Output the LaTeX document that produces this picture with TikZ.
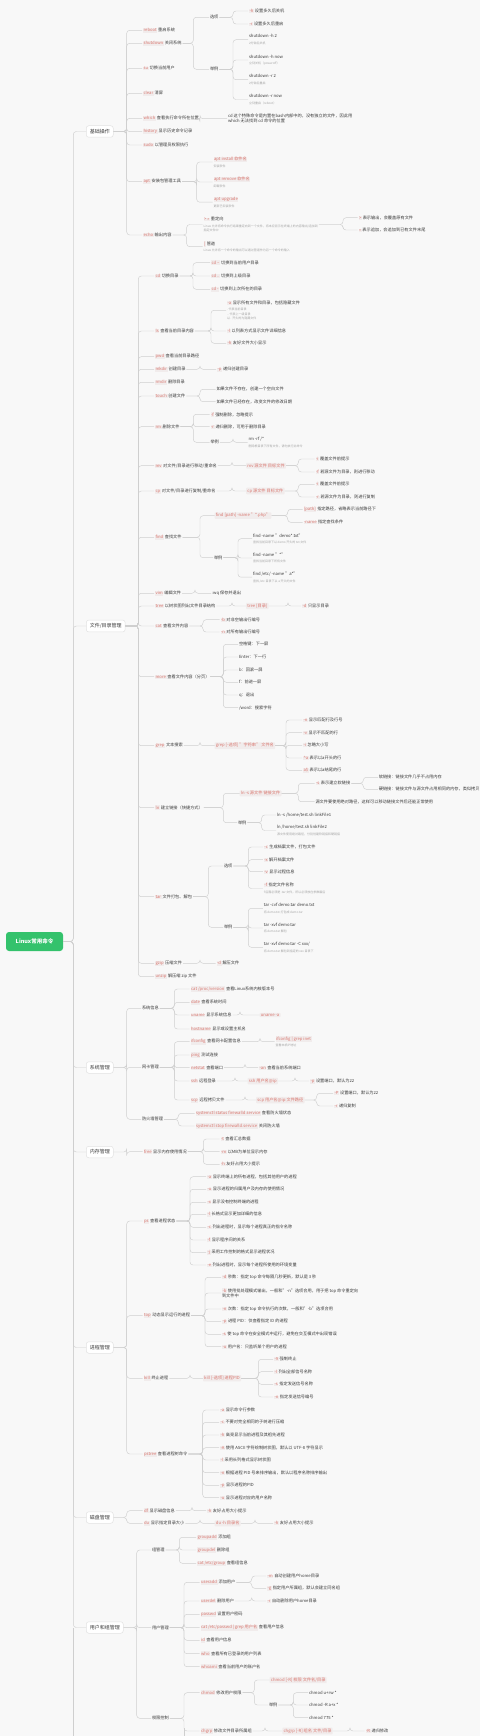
\documentclass[tikz,border=0pt]{standalone}
\usepackage{fontspec}
\setmainfont{Noto Sans CJK SC}
\usetikzlibrary{calc}
\definecolor{bgc}{HTML}{F8F8F8}
\definecolor{lc}{HTML}{CFCFCF}
\definecolor{txt}{HTML}{3A3A3A}
\definecolor{cmdc}{HTML}{D9776F}
\definecolor{codebg}{HTML}{F1ECEC}
\definecolor{notec}{HTML}{A5A5A5}
\definecolor{rootc}{HTML}{34C26C}
\definecolor{lob}{HTML}{E2E2E2}
\newcommand\cm[1]{{\setlength\fboxsep{0.6pt}\colorbox{codebg}{\textcolor{cmdc}{#1}}}}
\newcommand\op[1]{{\setlength\fboxsep{0.5pt}\colorbox{codebg}{\textcolor{cmdc}{#1}}}}
\newcommand\NT[1]{\\[1.6pt]{\fontsize{3}{3.6}\selectfont\color{notec}#1}}
\newcommand\NL[1]{\\[-0.6pt]{\fontsize{3}{3.6}\selectfont\color{notec}#1}}
\tikzset{
 t/.style={anchor=west,inner xsep=0.8pt,inner ysep=0.6pt,align=left,text=txt,font=\fontsize{4.2}{5}\selectfont},
 cb/.style={fill=codebg,text=cmdc,rounded corners=0.8pt,inner xsep=1.2pt,inner ysep=1pt},
 lone/.style={draw=lob,line width=0.5pt,fill=white,rounded corners=2.5pt,inner xsep=3.5pt,minimum height=11.5pt,font=\fontsize{5}{6}\selectfont,text=txt,anchor=west},
 rootn/.style={fill=rootc,rounded corners=3pt,text=white,font=\fontsize{5.5}{6.5}\selectfont\bfseries,minimum width=57pt,minimum height=19pt},
 link/.style={draw=lc,line width=0.45pt,rounded corners=3pt}
}
\newcommand\nd[4]{\node[t] (#1) at (#2,-#3) {#4};}
\newcommand\cbx[4]{\node[t,cb] (#1) at (#2,-#3) {#4};}
\newcommand\lk[3]{\draw[link] let \p1=(#1.east), \p2=(#3.west) in (\p1) -- (#2pt,\y1) |- (\p2);}
\newcommand\lks[3]{\foreach \chn in {#3}{\lk{#1}{#2}{\chn}}}
\begin{document}
\begin{tikzpicture}[x=1pt,y=1pt]
\useasboundingbox (0,0) rectangle (480,-1736);
\fill[bgc] (0,0) rectangle (480,-1736);
\clip (0,0) rectangle (480,-1736);
% root and level 1
\node[rootn] (root) at (34.5,-941.5) {Linux常用命令};
\node[lone] (b1) at (86,-131.5) {基础操作};
\node[lone] (b2) at (86,-626) {文件/目录管理};
\node[lone] (b3) at (86,-1067.5) {系统管理};
\node[lone] (b4) at (86,-1152) {内存管理};
\node[lone] (b5) at (86,-1347.5) {进程管理};
\node[lone] (b6) at (86,-1517.5) {磁盘管理};
\node[lone] (b7) at (86,-1627.5) {用户和组管理};
\lks{root}{73.3}{b1,b2,b3,b4,b5,b6,b7}
\coordinate (more) at (73.3,-1760);
\draw[link] let \p1=(b7.west) in (73.3pt,\y1) -- (more);
% ===== 基础操作
\nd{a1}{142}{30.3}{\cm{reboot} 重启系统}
\nd{a2}{142}{43.3}{\cm{shutdown} 关闭系统}
\nd{a3}{142}{68.3}{\cm{su} 切换当前用户}
\nd{a4}{142}{93.3}{\cm{clear} 清屏}
\nd{a5}{142}{118.3}{\cm{which} 查看执行命令所在位置}
\nd{a6}{142}{131.7}{\cm{history} 显示历史命令记录}
\nd{a7}{142}{145}{\cm{sudo} 以管理员权限执行}
\nd{a8}{142}{181.7}{\cm{apt} 安装包管理工具}
\nd{a9}{142}{235}{\cm{echo} 输出内容}
\lks{b1}{126.7}{a1,a2,a3,a4,a5,a6,a7,a8,a9}
\nd{a2o}{209}{17.3}{选项}
\nd{a2e}{209}{69.3}{举例}
\lks{a2}{193.3}{a2o,a2e}
\nd{o1}{248}{11}{\op{-h} 设置多久后关机}
\nd{o2}{248}{24}{\op{-r} 设置多久后重启}
\lks{a2o}{233}{o1,o2}
\nd{e1}{248}{39.7}{shutdown -h 2\NT{2分钟后关机}}
\nd{e2}{248}{60}{shutdown -h now\NT{立刻关机（poweroff）}}
\nd{e3}{248}{79.7}{shutdown -r 2\NT{2分钟后重启}}
\nd{e4}{248}{99.5}{shutdown -r now\NT{立刻重启（reboot）}}
\lks{a2e}{233}{e1,e2,e3,e4}
\nd{a5c}{227}{118.7}{cd 这个特殊命令是内置在bash内部中的，没有独立的文件，因此用\\which 无法找到 cd 命令的位置}
\lk{a5}{200}{a5c}
\nd{p1}{212.5}{162}{\cm{apt install 软件名}\NT{安装软件}}
\nd{p2}{212.5}{182}{\cm{apt remove 软件名}\NT{卸载软件}}
\nd{p3}{212.5}{202.2}{\cm{apt upgrade}\NT{更新已安装软件}}
\lks{a8}{196.7}{p1,p2,p3}
\nd{r1}{202.5}{224.5}{\cm{> >>} 重定向\NT{Linux 允许将命令执行结果重定向到一个文件，将本应显示在终端上的内容输出/追加到}\NL{指定文件中}}
\nd{r2}{202.5}{246.7}{\cm{|} 管道\NT{Linux 允许将一个命令的输出可以通过管道作为另一个命令的输入}}
\lks{a9}{186.7}{r1,r2}
\nd{r1a}{357.5}{217.7}{\op{>} 表示输出，会覆盖原有文件}
\nd{r1b}{357.5}{230}{\op{>>} 表示追加，会追加到已有文件末尾}
\lks{r1}{343}{r1a,r1b}
% ===== 文件/目录管理
\nd{f1}{154}{276}{\cm{cd} 切换目录}
\nd{f2}{154}{331}{\cm{ls} 查看当前目录内容}
\nd{f3}{154}{356.7}{\cm{pwd} 查看当前目录路径}
\nd{f4}{154}{369.3}{\cm{mkdir} 创建目录}
\nd{f5}{154}{382.3}{\cm{rmdir} 删除目录}
\nd{f6}{154}{396}{\cm{touch} 创建文件}
\nd{f7}{154}{426.7}{\cm{rm} 删除文件}
\nd{f8}{154}{465.7}{\cm{mv} 对文件/目录进行移动/重命名}
\nd{f9}{154}{491}{\cm{cp} 对文件/目录进行复制/重命名}
\nd{f10}{154}{537.3}{\cm{find} 查找文件}
\nd{f11}{154}{593.3}{\cm{vim} 编辑文件}
\nd{f12}{154}{606}{\cm{tree} 以树状图列出文件目录结构}
\nd{f13}{154}{626}{\cm{cat} 查看文件内容}
\nd{f14}{154}{676.7}{\cm{more} 查看文件内容（分页）}
\nd{f15}{154}{745.7}{\cm{grep} 文本搜索}
\nd{f16}{154}{807.7}{\cm{ln} 建立链接（快捷方式）}
\nd{f17}{154}{896.7}{\cm{tar} 文件打包、解包}
\nd{f18}{154}{963.3}{\cm{gzip} 压缩文件}
\nd{f19}{154}{976.7}{\cm{unzip} 解压缩 zip 文件}
\lks{b2}{138.3}{f1,f2,f3,f4,f5,f6,f7,f8,f9,f10,f11,f12,f13,f14,f15,f16,f17,f18,f19}
\nd{c1}{210}{262.7}{\cm{cd \textasciitilde} 切换到当前用户目录}
\nd{c2}{210}{276}{\cm{cd ..} 切换到上级目录}
\nd{c3}{210}{289.3}{\cm{cd -} 切换到上次所在的目录}
\lks{f1}{193}{c1,c2,c3}
\nd{l1}{226}{310.3}{\op{-a} 显示所有文件和目录，包括隐藏文件\NT{. 代表当前目录}\NL{.. 代表上一级目录}\NL{以 . 开头的为隐藏文件}}
\nd{l2}{226}{331}{\op{-l} 以列表方式显示文件详细信息}
\nd{l3}{226}{343.3}{\op{-h} 友好文件大小显示}
\lks{f2}{211}{l1,l2,l3}
\nd{mk1}{216}{369.3}{\op{-p} 递归创建目录}
\lk{f4}{200}{mk1}
\nd{t1}{215.5}{389.3}{如果文件不存在，创建一个空白文件}
\nd{t2}{215.5}{401.7}{如果文件已经存在，改变文件的修改日期}
\lks{f6}{200}{t1,t2}
\nd{rm1}{209.5}{414.3}{\op{-f} 强制删除，忽略提示}
\nd{rm2}{209.5}{426.7}{\op{-r} 递归删除，可用于删除目录}
\nd{rm3}{209.5}{442.3}{举例}
\lks{f7}{193.3}{rm1,rm2,rm3}
\nd{rm3a}{247.5}{442.3}{rm -rf /*\NT{删除根目录下所有文件，请勿执行此命令}}
\lk{rm3}{233}{rm3a}
\cbx{mvb}{246}{465.7}{mv 源文件 目标文件}
\lk{f8}{232}{mvb}
\nd{mv1}{314.5}{459}{\op{-i} 覆盖文件前提示}
\nd{mv2}{314.5}{472}{\op{-f} 若源文件为目录，则进行移动}
\lks{mvb}{298.3}{mv1,mv2}
\cbx{cpb}{246}{491}{cp 源文件 目标文件}
\lk{f9}{232}{cpb}
\nd{cp1}{314.5}{484.3}{\op{-i} 覆盖文件前提示}
\nd{cp2}{314.5}{497}{\op{-r} 若源文件为目录，则进行复制}
\lks{cpb}{298.3}{cp1,cp2}
\cbx{fd1}{214.5}{515.7}{find [path] -name "*.php"}
\nd{fd2}{213}{557.7}{举例}
\lks{f10}{200}{fd1,fd2}
\nd{fd1a}{302.5}{509.3}{\op{[path]} 指定路径，省略表示当前路径下}
\nd{fd1b}{302.5}{522.3}{\op{-name} 指定查找条件}
\lks{fd1}{287.7}{fd1a,fd1b}
\nd{fe1}{252}{538.7}{find -name "demo*.txt"\NT{查找当前目录下以 demo 开头的 txt 文件}}
\nd{fe2}{252}{558}{find -name "*"\NT{查找当前目录下所有文件}}
\nd{fe3}{252}{577.2}{find /etc/ -name "a*"\NT{查找 /etc 目录下以 a 开头的文件}}
\lks{fd2}{238}{fe1,fe2,fe3}
\nd{vi1}{211}{593.3}{:wq 保存并退出}
\lk{f11}{195}{vi1}
\cbx{trb}{246}{606}{tree [目录]}
\lk{f12}{232}{trb}
\nd{tree1}{301}{606}{\op{-d} 只显示目录}
\lk{trb}{288}{tree1}
\nd{ca1}{219.5}{619.7}{\op{-b} 对非空输出行编号}
\nd{ca2}{219.5}{632}{\op{-n} 对所有输出行编号}
\lks{f13}{203}{ca1,ca2}
\nd{mo1}{238}{644.3}{空格键：下一屏}
\nd{mo2}{238}{657}{Enter：下一行}
\nd{mo3}{238}{670}{b：回滚一屏}
\nd{mo4}{238}{682.3}{f：前进一屏}
\nd{mo5}{238}{695}{q：退出}
\nd{mo6}{238}{707.7}{/word：搜索字符}
\lks{f14}{223.3}{mo1,mo2,mo3,mo4,mo5,mo6}
\cbx{grb}{214.5}{745.7}{grep [-选项] "字符串" 文件名}
\lk{f15}{200}{grb}
\nd{g1}{302}{720}{\op{-n} 显示匹配行及行号}
\nd{g2}{302}{732.7}{\op{-v} 显示不匹配的行}
\nd{g3}{302}{745.3}{\op{-i} 忽略大小写}
\nd{g4}{302}{758}{\op{\textasciicircum a} 表示以a开头的行}
\nd{g5}{302}{770.3}{\op{a\$} 表示以a结尾的行}
\lks{grb}{286}{g1,g2,g3,g4,g5}
\cbx{lnb}{239.5}{793.3}{ln -s 源文件 链接文件}
\nd{lne}{237}{822.7}{举例}
\lks{f16}{223.3}{lnb,lne}
\nd{ln1}{314.5}{783.3}{\op{-s} 表示建立软链接}
\nd{ln2}{314.5}{801.7}{源文件要使用绝对路径，这样可以移动链接文件后还能正常使用}
\lks{lnb}{298.3}{ln1,ln2}
\nd{ln1a}{377.8}{777.3}{软链接：链接文件几乎不占用内存}
\nd{ln1b}{377.8}{789.3}{硬链接：链接文件与源文件占用相同的内存，类似拷贝}
\lks{ln1}{363.3}{ln1a,ln1b}
\nd{lne1}{276}{815}{ln -s /home/test.sh linkFile1}
\nd{lne2}{276}{830.5}{ln /home/test.sh linkFile2\NT{源文件使用绝对路径，分别创建软链接和硬链接}}
\lks{lne}{261.7}{lne1,lne2}
\nd{tro}{223}{866}{选项}
\nd{tre}{223}{927.3}{举例}
\lks{f17}{208.3}{tro,tre}
\nd{ta1}{262.8}{847}{\op{-c} 生成档案文件，打包文件}
\nd{ta2}{262.8}{859.7}{\op{-x} 解开档案文件}
\nd{ta3}{262.8}{871.7}{\op{-v} 显示过程信息}
\nd{ta4}{262.8}{888.5}{\op{-f} 指定文件名称\NT{f 后面必须是 .tar 文件，所以必须放在参数最后}}
\lks{tro}{248.3}{ta1,ta2,ta3,ta4}
\nd{te1}{262.8}{908.3}{tar -cvf demo.tar demo.txt\NT{将 demo.txt 打包成 demo.tar}}
\nd{te2}{262.8}{928}{tar -xvf demo.tar\NT{将 demo.tar 解包}}
\nd{te3}{262.8}{947.3}{tar -xvf demo.tar -C xxx/\NT{将 demo.tar 解包到指定的 xxx 目录下}}
\lks{tre}{248.3}{te1,te2,te3}
\nd{gz1}{215.5}{963.3}{\op{-d} 解压文件}
\lk{f18}{200}{gz1}
% ===== 系统管理
\nd{s1}{141}{1008.3}{系统信息}
\nd{s2}{141}{1067.3}{网卡管理}
\nd{s3}{141}{1119.3}{防火墙管理}
\lks{b3}{126.7}{s1,s2,s3}
\nd{si1}{189.5}{989}{\cm{cat /proc/version} 查看Linux系统内核版本号}
\nd{si2}{189.5}{1002.3}{\cm{date} 查看系统时间}
\nd{si3}{189.5}{1015}{\cm{uname} 显示系统信息}
\nd{si4}{189.5}{1029}{\cm{hostname} 显示或设置主机名}
\lks{s1}{174.3}{si1,si2,si3,si4}
\cbx{si3a}{259.5}{1015}{uname -a}
\lk{si3}{240}{si3a}
\nd{nw1}{189.5}{1041.7}{\cm{ifconfig} 查看网卡配置信息}
\nd{nw2}{189.5}{1055}{\cm{ping} 测试连接}
\nd{nw3}{189.5}{1067.7}{\cm{netstat} 查看端口}
\nd{nw4}{189.5}{1081}{\cm{ssh} 远程登录}
\nd{nw5}{189.5}{1100}{\cm{scp} 远程拷贝文件}
\lks{s2}{174.3}{nw1,nw2,nw3,nw4,nw5}
\nd{nw1a}{274.5}{1041.7}{\cm{ifconfig | grep inet}\NT{查看本机IP地址}}
\lk{nw1}{260}{nw1a}
\nd{nw3a}{258}{1067.7}{\op{-an} 查看当前系统端口}
\lk{nw3}{245}{nw3a}
\cbx{nw4a}{247.5}{1081}{ssh 用户名@ip}
\lk{nw4}{235}{nw4a}
\nd{nw4b}{309}{1081}{\op{-p} 设置端口，默认为22}
\lk{nw4a}{295}{nw4b}
\cbx{nw5a}{256}{1100}{scp 用户名@ip:文件路径}
\lk{nw5}{245}{nw5a}
\nd{nw5b}{333}{1093.3}{\op{-P} 设置端口，默认为22}
\nd{nw5c}{333}{1106}{\op{-r} 递归复制}
\lks{nw5a}{316.7}{nw5b,nw5c}
\nd{fw1}{194.5}{1113.3}{\cm{systemctl status firewalld.service} 查看防火墙状态}
\nd{fw2}{194.5}{1126}{\cm{systemctl stop firewalld.service} 关闭防火墙}
\lks{s3}{178.3}{fw1,fw2}
% ===== 内存管理
\nd{m1}{142.5}{1151.7}{\cm{free} 显示内存使用情况}
\lk{b4}{126.7}{m1}
\nd{m1a}{219.5}{1139}{\op{-t} 查看汇总数据}
\nd{m1b}{219.5}{1151.7}{\op{-m} 以MB为单位显示内存}
\nd{m1c}{219.5}{1164.3}{\op{-h} 友好占用大小提示}
\lks{m1}{203.3}{m1a,m1b,m1c}
% ===== 进程管理
\nd{pr1}{142.5}{1221}{\cm{ps} 查看进程状态}
\nd{pr2}{142.5}{1315.7}{\cm{top} 动态显示运行的进程}
\nd{pr3}{142.5}{1378.3}{\cm{kill} 终止进程}
\nd{pr4}{142.5}{1454}{\cm{pstree} 查看进程树命令}
\lks{b5}{126.7}{pr1,pr2,pr3,pr4}
\nd{ps1}{206}{1176.7}{\op{-a} 显示终端上的所有进程，包括其他用户的进程}
\nd{ps2}{206}{1189.3}{\op{-u} 显示进程的归属用户及内存的使用情况}
\nd{ps3}{206}{1202.3}{\op{-x} 显示没有控制终端的进程}
\nd{ps4}{206}{1214.3}{\op{-l} 长格式显示更加详细的信息}
\nd{ps5}{206}{1227.3}{\op{-c} 列出进程时，显示每个进程真正的指令名称}
\nd{ps6}{206}{1240}{\op{-f} 显示程序间的关系}
\nd{ps7}{206}{1252.7}{\op{-j} 采用工作控制的格式显示进程状况}
\nd{ps8}{206}{1265}{\op{-e} 列出进程时，显示每个进程所使用的环境变量}
\lks{pr1}{190}{ps1,ps2,ps3,ps4,ps5,ps6,ps7,ps8}
\nd{tp1}{221}{1277.3}{\op{-d} 秒数：指定 top 命令每隔几秒更新，默认是 3 秒}
\nd{tp2}{221}{1293}{\op{-b} 使用批处理模式输出，一般和"-n"选项合用，用于把 top 命令重定向\\到文件中}
\nd{tp3}{221}{1309}{\op{-n} 次数：指定 top 命令执行的次数，一般和"-b"选项合用}
\nd{tp4}{221}{1321.7}{\op{-p} 进程 PID：仅查看指定 ID 的进程}
\nd{tp5}{221}{1334.3}{\op{-s} 使 top 命令在安全模式中运行，避免在交互模式中出现错误}
\nd{tp6}{221}{1346.7}{\op{-u} 用户名：只监听某个用户的进程}
\lks{pr2}{205}{tp1,tp2,tp3,tp4,tp5,tp6}
\cbx{klb}{202.8}{1378.3}{kill [-选项] 进程PID}
\lk{pr3}{190}{klb}
\nd{kl1}{273}{1359.3}{\op{-9} 强制终止}
\nd{kl2}{273}{1371.7}{\op{-l} 列出全部信号名称}
\nd{kl3}{273}{1384.3}{\op{-s} 指定发送信号名称}
\nd{kl4}{273}{1397}{\op{-n} 指定发送信号编号}
\lks{klb}{258.3}{kl1,kl2,kl3,kl4}
\nd{pt1}{219}{1410}{\op{-a} 显示命令行参数}
\nd{pt2}{219}{1422.3}{\op{-c} 不要对完全相同的子树进行压缩}
\nd{pt3}{219}{1435}{\op{-h} 高亮显示当前进程及其祖先进程}
\nd{pt4}{219}{1447.7}{\op{-A} 使用 ASCII 字符绘制树状图，默认以 UTF-8 字符显示}
\nd{pt5}{219}{1460}{\op{-l} 采用长列格式显示树状图}
\nd{pt6}{219}{1472.7}{\op{-n} 根据进程 PID 号来排序输出，默认以程序名称排序输出}
\nd{pt7}{219}{1485.3}{\op{-p} 显示进程的PID}
\nd{pt8}{219}{1497.7}{\op{-u} 显示进程对应的用户名称}
\lks{pr4}{202.7}{pt1,pt2,pt3,pt4,pt5,pt6,pt7,pt8}
% ===== 磁盘管理
\nd{dk1}{142.5}{1510.7}{\cm{df} 显示磁盘信息}
\nd{dk2}{142.5}{1523.3}{\cm{du} 显示指定目录大小}
\lks{b6}{126.7}{dk1,dk2}
\nd{dk1a}{206}{1510.7}{\op{-h} 友好占用大小提示}
\lk{dk1}{192}{dk1a}
\cbx{dk2a}{214.5}{1523.3}{du -h 目录名}
\lk{dk2}{200}{dk2a}
\nd{dk2b}{273}{1523.3}{\op{-h} 友好占用大小提示}
\lk{dk2a}{255}{dk2b}
% ===== 用户和组管理
\nd{u1}{151}{1550}{组管理}
\nd{u2}{151}{1627.7}{用户管理}
\nd{u3}{151}{1718.3}{权限控制}
\lks{b7}{136.7}{u1,u2,u3}
\nd{gr1}{196}{1537.3}{\cm{groupadd} 添加组}
\nd{gr2}{196}{1550}{\cm{groupdel} 删除组}
\nd{gr3}{196}{1563.3}{\cm{cat /etc/group} 查看组信息}
\lks{u1}{179.3}{gr1,gr2,gr3}
\nd{ua1}{199.5}{1582.3}{\cm{useradd} 添加用户}
\nd{ua2}{199.5}{1601}{\cm{userdel} 删除用户}
\nd{ua3}{199.5}{1614.3}{\cm{passwd} 设置用户密码}
\nd{ua4}{199.5}{1627.7}{\cm{cat /etc/passwd | grep 用户名} 查看用户信息}
\nd{ua5}{199.5}{1640.3}{\cm{id} 查看用户信息}
\nd{ua6}{199.5}{1653.7}{\cm{who} 查看所有已登录的用户列表}
\nd{ua7}{199.5}{1666.7}{\cm{whoami} 查看当前用户的账户名}
\lks{u2}{184}{ua1,ua2,ua3,ua4,ua5,ua6,ua7}
\nd{ua1a}{266}{1576}{\op{-m} 自动创建用户home目录}
\nd{ua1b}{266}{1588.3}{\op{-g} 指定用户所属组，默认会建立同名组}
\lks{ua1}{251.7}{ua1a,ua1b}
\nd{ua2a}{266}{1601}{\op{-r} 自动删除用户home目录}
\lk{ua2}{251.7}{ua2a}
\nd{pc1}{199.5}{1692.7}{\cm{chmod} 修改用户权限}
\nd{pc2}{199.5}{1731}{\cm{chgrp} 修改文件目录所属组}
\lks{u3}{184}{pc1,pc2}
\coordinate (pc3) at (184,-1760);
\draw[link] let \p1=(pc2.west) in (184pt,\y1+3pt) -- (pc3);
\cbx{pc1a}{269.5}{1680}{chmod [-R] 权限 文件名/目录}
\nd{pc1b}{268}{1705}{举例}
\lks{pc1}{254.3}{pc1a,pc1b}
\nd{pe1}{308}{1692.7}{chmod u+rw *}
\nd{pe2}{308}{1705}{chmod -R a+x *}
\nd{pe3}{308}{1717.7}{chmod 775 *}
\lks{pc1b}{293.3}{pe1,pe2,pe3}
\cbx{pc2a}{282.2}{1731}{chgrp [-R] 组名 文件/目录}
\lk{pc2}{265}{pc2a}
\nd{pc2b}{364.5}{1731}{\op{-R} 递归修改}
\lk{pc2a}{350}{pc2b}
\end{tikzpicture}
\end{document}
